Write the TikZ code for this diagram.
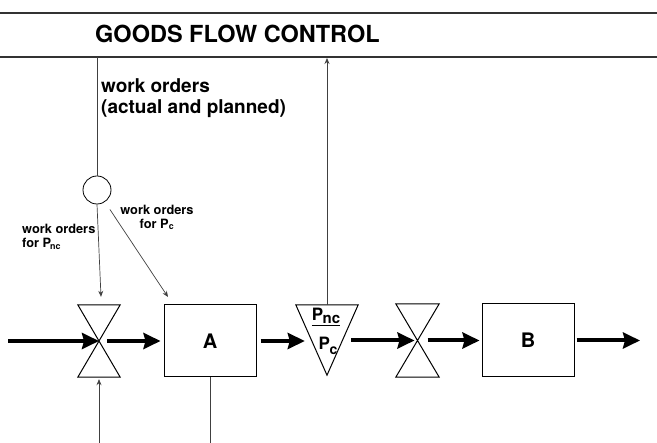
\documentclass[tikz,border=0pt]{standalone}
\usepackage{fontspec}
\setmainfont{TeX Gyre Heros}
\usetikzlibrary{arrows.meta}
\begin{document}
\begin{tikzpicture}[x=1pt,y=-1pt,
  flow/.style={line width=4pt, -{Stealth[length=17pt,width=16pt,inset=2pt]}},
  thinline/.style={line width=0.7pt, black!75},
  thinarrow/.style={thinline, -{Stealth[length=6pt,width=5pt]}},
  rule/.style={line width=1.1pt, black!80},
  box/.style={draw, line width=1pt, minimum width=92pt, minimum height=72pt, inner sep=0pt, font=\bfseries\fontsize{20}{20}\selectfont},
  valve/.style={minimum width=42pt, minimum height=72pt, inner sep=0pt},
  shape outline/.style={line width=1pt, line join=miter},
  lbl/.style={inner sep=0pt}
]
\useasboundingbox (0,0) rectangle (657,443);

% header rules
\coordinate (r1a) at (0,13);   \coordinate (r1b) at (657,13);
\coordinate (r2a) at (0,57);   \coordinate (r2b) at (657,57);
\draw[rule] (r1a) -- (r1b);
\draw[rule] (r2a) -- (r2b);
\node[anchor=west, font=\bfseries\fontsize{23.5}{24}\selectfont, lbl] (title) at (95,34) {GOODS FLOW CONTROL};

% nodes
\node[draw, circle, minimum size=28pt, inner sep=0pt, line width=0.8pt] (c) at (97,190) {};
\node[valve] (v1) at (99,341) {};
\node[box] (A) at (210,341) {A};
\node[minimum width=62pt, minimum height=70pt, inner sep=0pt] (t) at (327,340) {};
\node[valve, minimum width=43pt, minimum height=73pt] (v2) at (417.5,340.5) {};
\node[box, minimum height=73pt] (B) at (528,340.5) {B};

% valve and triangle outlines
\draw[shape outline] (v1.north west) -- (v1.north east) -- (v1.south west) -- (v1.south east) -- cycle;
\draw[shape outline] (v2.north west) -- (v2.north east) -- (v2.south west) -- (v2.south east) -- cycle;
\draw[shape outline] (t.north west) -- (t.north east) -- (t.south) -- cycle;

% triangle contents
\node[lbl, font=\bfseries\fontsize{17}{17}\selectfont] (pnc) at (326,317) {\underline{P\kern-0.5pt\raisebox{-3pt}{\fontsize{15}{15}\selectfont nc}}};
\node[lbl, font=\bfseries\fontsize{17}{17}\selectfont] (pc) at (328,346) {P\kern-0.5pt\raisebox{-5pt}{\fontsize{14}{14}\selectfont c}};

% labels
\node[anchor=north west, align=left, lbl, font=\bfseries\fontsize{19}{21}\selectfont] (wo) at (101,78) {work orders\\(actual and planned)};
\node[anchor=north west, align=left, lbl, font=\bfseries\fontsize{12.8}{14}\selectfont] (wl) at (22,224) {work orders\\for P\kern-1pt\textsubscript{nc}};
\node[anchor=north, align=center, lbl, font=\bfseries\fontsize{12.8}{13.5}\selectfont] (wr) at (157,205) {work orders\\for P\textsubscript{c}};

% main flow
\coordinate (in) at (8,341);
\coordinate (out) at (640,340.5);
\draw[flow] (in) -- (v1.center);
\draw[flow] ([xshift=8pt]v1.center) -- ([xshift=-3pt]A.west);
\draw[flow] ([xshift=4pt]A.east) -- ([xshift=9pt,yshift=-1pt]t.west);
\draw[flow] ([xshift=-7pt,yshift=-0.5pt]t.east) -- ([xshift=-3pt]v2.center);
\draw[flow] ([xshift=10pt]v2.center) -- ([xshift=-2pt]B.west);
\draw[flow] ([xshift=2pt]B.east) -- (out);

% control lines
\coordinate (top1) at (97,57);
\coordinate (dA) at (168,297);
\coordinate (b1) at (99,443);
\coordinate (b2) at (210,443);
\coordinate (ctrl) at (327,58);
\draw[thinline] (top1) -- (c.north);
\draw[thinarrow] (c.south) -- ([xshift=2pt,yshift=8pt]v1.north);
\draw[thinarrow, shorten <=9pt] (c) -- (dA);
\draw[thinarrow] (b1) -- ([yshift=-2pt]v1.south);
\draw[thinline] (A.south) -- (b2);
\draw[thinarrow] (t.north) -- (ctrl);
\end{tikzpicture}
\end{document}
